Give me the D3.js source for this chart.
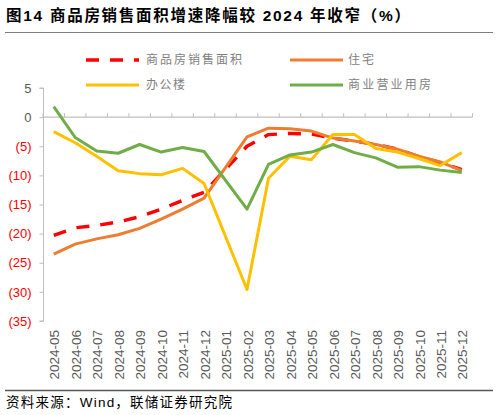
<!DOCTYPE html>
<html>
<head>
<meta charset="utf-8">
<script src="https://cdn.jsdelivr.net/npm/d3@7/dist/d3.min.js"></script>
<style>
  html, body { margin: 0; padding: 0; background: #fff; }
  svg { display: block; }
</style>
</head>
<body>
<svg id="chart" width="499" height="415"></svg>
<script>
const categories = ['2024-05','2024-06','2024-07','2024-08','2024-09','2024-10','2024-11','2024-12',
  '2025-01','2025-02','2025-03','2025-04','2025-05','2025-06','2025-07','2025-08','2025-09','2025-10','2025-11','2025-12'];
const totalArea   = [-20.3,-19.0,-18.6,-18.0,-17.1,-15.8,-14.3,-12.9,null,-5.0,-3.0,-2.8,-2.9,-3.6,-4.1,-4.7,-5.5,-6.8,-7.8,-9.0];
const residential = [-23.5,-21.8,-20.9,-20.2,-19.1,-17.5,-15.8,-13.9,null,-3.4,-1.9,-2.0,-2.4,-3.6,-4.1,-4.7,-5.5,-6.7,-7.7,-9.2];
const office      = [-2.5,-4.4,-6.7,-9.2,-9.7,-9.9,-8.8,-11.4,null,-29.6,-10.5,-6.7,-7.3,-3.0,-3.0,-5.4,-6.0,-7.1,-8.3,-6.1];
const commercial  = [1.8,-3.5,-5.8,-6.2,-4.7,-6.0,-5.2,-5.9,null,-15.8,-8.1,-6.5,-6.0,-4.7,-6.1,-7.0,-8.6,-8.5,-9.1,-9.5];
const yTicks = [5,0,-5,-10,-15,-20,-25,-30,-35];
const seriesNames = ['商品房销售面积','住宅','办公楼','商业营业用房'];
const titleText = '图14 商品房销售面积增速降幅较 2024 年收窄（%）';
const sourceText = '资料来源：Wind，联储证券研究院';

const series = [
  {name: seriesNames[0], values: totalArea,   color: '#FF0000', dash: '13,11', width: 3.4},
  {name: seriesNames[1], values: residential, color: '#ED7D31', dash: null, width: 3},
  {name: seriesNames[2], values: office,      color: '#FFC000', dash: null, width: 3},
  {name: seriesNames[3], values: commercial,  color: '#70AD47', dash: null, width: 3}
];

const svg = d3.select('#chart');
const cjk = '"Liberation Sans", Arial, "Noto Sans CJK SC", sans-serif';

const x = d3.scaleBand().domain(categories).range([43, 472.5]).padding(0);
const y = d3.scaleLinear().domain([-35, 5]).range([321, 88]);

// Title
svg.append('text')
  .attr('x', 6).attr('y', 21)
  .attr('font-family', '"Liberation Sans", Arial, "Noto Sans CJK SC", sans-serif')
  .attr('font-weight', 'bold')
  .attr('font-size', 15.5)
  .attr('fill', '#000')
  .attr('textLength', 404).attr('lengthAdjust', 'spacing')
  .text(titleText);
svg.append('line').attr('x1', 5).attr('x2', 493).attr('y1', 32.5).attr('y2', 32.5)
  .attr('stroke', '#7f7f7f').attr('stroke-width', 1);

// Y axis
const yAxis = d3.axisLeft(y).tickValues(yTicks).tickSize(4).tickPadding(8)
  .tickFormat(v => v < 0 ? `(${-v})` : `${v}`);
const yg = svg.append('g').attr('transform', 'translate(43.5,0)').call(yAxis);
yg.select('.domain').attr('stroke', '#bfbfbf').attr('d', `M-4,${y(5)}H0V${y(-35)}H-4`);
yg.selectAll('.tick line').attr('stroke', '#bfbfbf');
yg.selectAll('.tick text')
  .attr('font-family', cjk).attr('font-size', 13)
  .attr('fill', d => d < 0 ? '#FF0000' : '#595959');

// X axis at zero
const xg = svg.append('g');
xg.append('line').attr('x1', x.range()[0]).attr('x2', x.range()[1])
  .attr('y1', y(0)).attr('y2', y(0)).attr('stroke', '#bfbfbf').attr('stroke-width', 1.2);
const bounds = categories.map(c => x(c)).concat([x.range()[1]]);
xg.selectAll('line.xt').data(bounds).join('line').attr('class', 'xt')
  .attr('x1', d => d).attr('x2', d => d)
  .attr('y1', y(0)).attr('y2', y(0) - 4)
  .attr('stroke', '#bfbfbf').attr('stroke-width', 1);

// X labels (rotated)
svg.append('g').selectAll('text').data(categories).join('text')
  .attr('transform', d => `translate(${x(d) + x.bandwidth() / 2 + 1},330) rotate(-90)`)
  .attr('text-anchor', 'end')
  .attr('dy', '0.35em')
  .attr('font-family', cjk).attr('font-size', 13.5)
  .attr('fill', '#595959')
  .text(d => d);

// Lines
const line = d3.line()
  .x(d => x(d.c) + x.bandwidth() / 2)
  .y(d => y(d.v));
series.forEach(s => {
  const pts = categories.map((c, i) => ({c, v: s.values[i]})).filter(d => d.v !== null);
  svg.append('path').datum(pts)
    .attr('d', line)
    .attr('fill', 'none')
    .attr('stroke', s.color)
    .attr('stroke-width', s.width)
    .attr('stroke-linejoin', 'round')
    .attr('stroke-dasharray', s.dash);
});

// Legend
const legendPos = [
  {x: 86, y: 60, tx: 146, len: 96},
  {x: 290, y: 60, tx: 348, len: 26},
  {x: 86, y: 85, tx: 146, len: 39},
  {x: 290, y: 85, tx: 348, len: 83}
];
series.forEach((s, i) => {
  const p = legendPos[i];
  svg.append('line').attr('x1', p.x).attr('x2', p.x + 53).attr('y1', p.y).attr('y2', p.y)
    .attr('stroke', s.color).attr('stroke-width', s.width)
    .attr('stroke-dasharray', s.dash);
  svg.append('text').attr('x', p.tx).attr('y', p.y).attr('dy', '0.36em')
    .attr('font-family', '"Noto Sans CJK SC", sans-serif').attr('font-size', 12)
    .attr('fill', '#7f7f7f')
    .attr('textLength', p.len).attr('lengthAdjust', 'spacing')
    .text(s.name);
});

// Bottom rule and source
svg.append('line').attr('x1', 5).attr('x2', 493).attr('y1', 390.5).attr('y2', 390.5)
  .attr('stroke', '#595959').attr('stroke-width', 1.5);
svg.append('text').attr('x', 6).attr('y', 407)
  .attr('font-family', cjk).attr('font-size', 13.5)
  .attr('fill', '#000')
  .attr('textLength', 226).attr('lengthAdjust', 'spacing')
  .text(sourceText);
</script>
</body>
</html>
